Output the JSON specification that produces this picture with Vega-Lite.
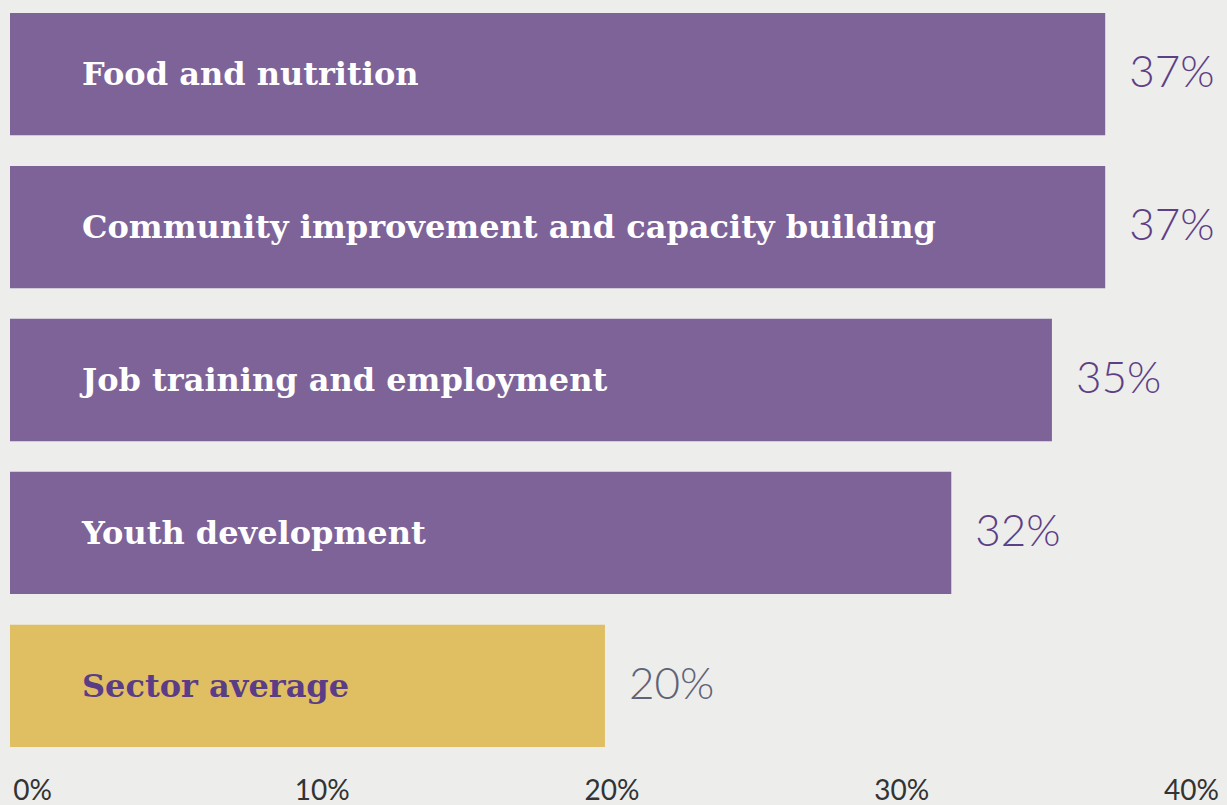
{
  "$schema": "https://vega.github.io/schema/vega-lite/v6.json",
  "autosize": "none",
  "width": 1184,
  "height": 734,
  "padding": {"left": 10, "top": 13, "right": 33, "bottom": 58},
  "background": "#EDEDEB",
  "config": {"view": {"stroke": null}},
  "data": {"values": [
    {"category": "Food and nutrition", "value": 37, "label": "37%", "group": "main"},
    {"category": "Community improvement and capacity building", "value": 37, "label": "37%", "group": "main"},
    {"category": "Job training and employment", "value": 35.2, "label": "35%", "group": "main"},
    {"category": "Youth development", "value": 31.8, "label": "32%", "group": "main"},
    {"category": "Sector average", "value": 20.1, "label": "20%", "group": "avg"}
  ]},
  "encoding": {
    "y": {"field": "category", "type": "nominal", "sort": null, "axis": null,
          "scale": {"paddingInner": 0.2, "paddingOuter": 0}}
  },
  "layer": [
    {
      "mark": {"type": "bar"},
      "encoding": {
        "x": {"field": "value", "type": "quantitative", "scale": {"domain": [0, 40], "nice": false}, "axis": null},
        "color": {"field": "group", "type": "nominal", "scale": {"domain": ["main", "avg"], "range": ["#7E6399", "#DFBF62"]}, "legend": null}
      }
    },
    {
      "mark": {"type": "text", "align": "left", "baseline": "middle", "dx": 72, "dy": 1, "font": "DejaVu Serif", "fontWeight": "bold", "fontSize": 32},
      "encoding": {
        "x": {"datum": 0, "type": "quantitative", "scale": {"domain": [0, 40], "nice": false}, "axis": null},
        "text": {"field": "category"},
        "color": {"condition": {"test": "datum.group === 'avg'", "value": "#5B3C86"}, "value": "#FFFFFF"}
      }
    },
    {
      "mark": {"type": "text", "align": "left", "baseline": "middle", "dx": 24, "font": "Lato", "fontWeight": 300, "fontSize": 44},
      "encoding": {
        "x": {"field": "value", "type": "quantitative", "scale": {"domain": [0, 40], "nice": false}, "axis": null},
        "text": {"field": "label"},
        "color": {"condition": {"test": "datum.group === 'avg'", "value": "#5F6377"}, "value": "#5D3F86"}
      }
    },
    {
      "mark": {"type": "tick", "opacity": 0},
      "encoding": {
        "x": {"field": "value", "type": "quantitative",
              "scale": {"domain": [0, 40], "nice": false, "range": [22, 1181]},
              "axis": {"orient": "bottom", "values": [0, 10, 20, 30, 40], "labelExpr": "datum.value + '%'",
                       "domain": false, "ticks": false, "grid": false, "title": null,
                       "labelPadding": 30, "labelFont": "Lato", "labelFontSize": 28, "labelColor": "#333333",
                       "labelAlign": "center", "labelFlush": false, "labelBaseline": "top"}}
      }
    }
  ],
  "resolve": {"scale": {"x": "independent"}}
}
